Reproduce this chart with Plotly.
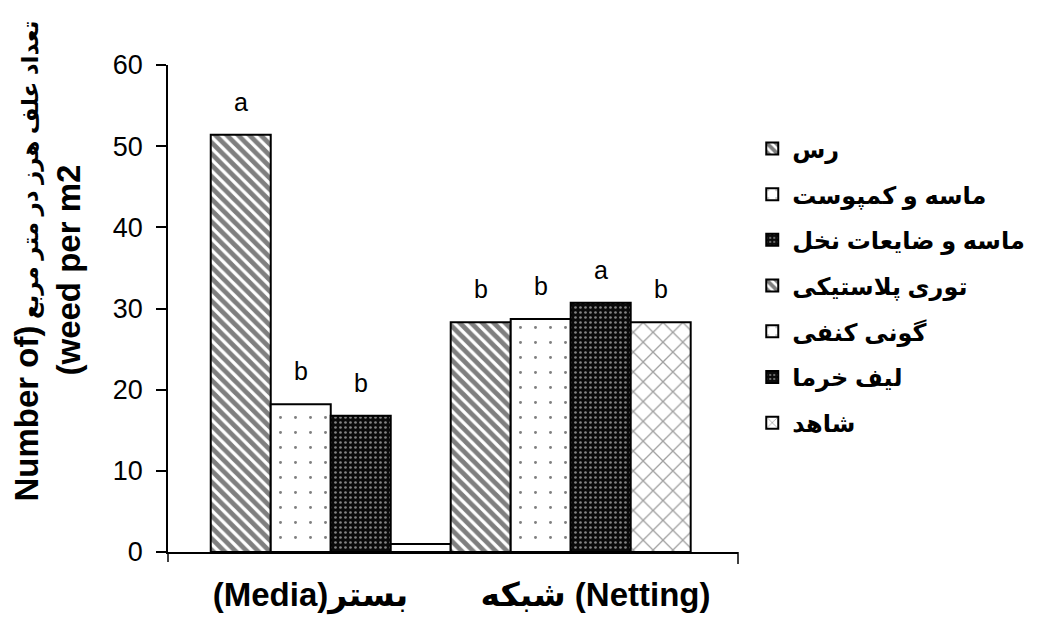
import plotly.graph_objects as go

# ---- data ----
categories = ["(Media)بستر", "شبکه (Netting)"]
series_names = ["رس", "ماسه و کمپوست", "ماسه و ضایعات نخل",
                "توری پلاستیکی", "گونی کنفی", "لیف خرما", "شاهد"]
series_values = [51.4, 18.2, 16.8, 28.3, 28.7, 30.7, 28.3]
series_group = [0, 0, 0, 1, 1, 1, 1]
series_letters = ["a", "b", "b", "b", "b", "a", "b"]
filler_value = 1.0   # small empty bar at end of Media group
filler_group = 0

y_ticks = [0, 10, 20, 30, 40, 50, 60]
y_title_line1_latin = "Number of)"
y_title_line1_persian = "تعداد علف هرز در متر مربع"
y_title_line2 = "(weed per m2"

# ---- styles ----
patterns = [
    dict(shape="\\", fgcolor="black", bgcolor="white", size=8, solidity=0.6),
    dict(shape=".", fgcolor="black", bgcolor="white", size=15, solidity=0.03),
    dict(shape=".", fgcolor="white", bgcolor="#0a0a0a", size=5, solidity=0.22),
    dict(shape="\\", fgcolor="black", bgcolor="white", size=8, solidity=0.6),
    dict(shape=".", fgcolor="black", bgcolor="white", size=15, solidity=0.03),
    dict(shape=".", fgcolor="white", bgcolor="#0a0a0a", size=5, solidity=0.22),
    dict(shape="x", fgcolor="#444444", bgcolor="white", size=14, solidity=0.18),
]

W = 0.2105          # bar width in category units
START = -0.35       # left edge of first bar

# slot order: three media series, filler, four netting series
slots = [("s", 0), ("s", 1), ("s", 2), ("f", None), ("s", 3), ("s", 4), ("s", 5), ("s", 6)]

font_main = "Liberation Sans, Arial, DejaVu Sans, sans-serif"

fig = go.Figure()
annotations = []
for k, (kind, idx) in enumerate(slots):
    left = START + k * W
    if kind == "s":
        g = series_group[idx]
        fig.add_trace(go.Bar(
            x=[categories[g]], y=[series_values[idx]],
            width=[W], offset=[left - g],
            name=series_names[idx], legendgroup=str(idx),
            marker=dict(color="white", line=dict(color="black", width=2),
                        pattern=patterns[idx]),
        ))
        annotations.append(dict(
            x=left + W / 2, y=series_values[idx], xref="x", yref="y",
            text=series_letters[idx], showarrow=False, yanchor="bottom",
            yshift=17, font=dict(size=25, color="black", family=font_main),
        ))
    else:
        g = filler_group
        fig.add_trace(go.Bar(
            x=[categories[g]], y=[filler_value],
            width=[W], offset=[left - g], showlegend=False,
            marker=dict(color="white", line=dict(color="black", width=2)),
        ))

# y-axis title: two rotated lines
title_font = dict(size=23, color="black", family=font_main, weight="bold")
annotations.append(dict(
    x=0, y=0.5, xref="paper", yref="paper", xanchor="center", yanchor="middle",
    xshift=-142, yshift=47, textangle=-90, showarrow=False,
    text=f"<span style='font-size:33px'>{y_title_line1_latin}</span> {y_title_line1_persian}",
    font=title_font,
))
annotations.append(dict(
    x=0, y=0.5, xref="paper", yref="paper", xanchor="center", yanchor="middle",
    xshift=-100, yshift=38, textangle=-90, showarrow=False,
    text=y_title_line2,
    font=dict(size=33, color="black", family=font_main, weight="bold"),
))

# page body has an 8px margin, so the figure is sized to fit the window
fig.update_layout(
    width=1034, height=614,
    margin=dict(l=160, r=304, t=57, b=70, autoexpand=False),
    paper_bgcolor="white", plot_bgcolor="white",
    barmode="overlay",
    showlegend=True,
    legend=dict(x=1.025, y=0.874, xanchor="left", yanchor="top",
                traceorder="grouped", tracegroupgap=11.5,
                font=dict(size=24, color="black", family=font_main, weight="bold"),
                bgcolor="rgba(0,0,0,0)"),
    annotations=annotations,
    font=dict(family=font_main, color="black"),
)

fig.update_xaxes(
    type="category", categoryorder="array", categoryarray=categories,
    range=[-0.5, 1.5], automargin=False,
    showline=True, linecolor="black", linewidth=1.5,
    ticks="", showgrid=False, zeroline=False,
    tickfont=dict(size=33, color="black", family=font_main, weight="bold"),
    ticklabelstandoff=13,
)
fig.update_yaxes(
    range=[0, 60], tickvals=y_ticks, automargin=False,
    showline=True, linecolor="black", linewidth=1.5,
    ticks="outside", ticklen=10, tickwidth=1.5, tickcolor="black",
    showgrid=False, zeroline=False,
    tickfont=dict(size=27, color="black", family=font_main),
    ticklabelstandoff=8,
)

# end tick marks of the category axis
plot_h = 614 - 57 - 70
for xd, ln in [(0, 10), (1, 12)]:
    fig.add_shape(type="line", xref="x domain", yref="paper",
                  x0=xd, x1=xd, y0=0, y1=-ln / plot_h,
                  line=dict(color="black", width=1.5))

fig.write_html("out.html")
